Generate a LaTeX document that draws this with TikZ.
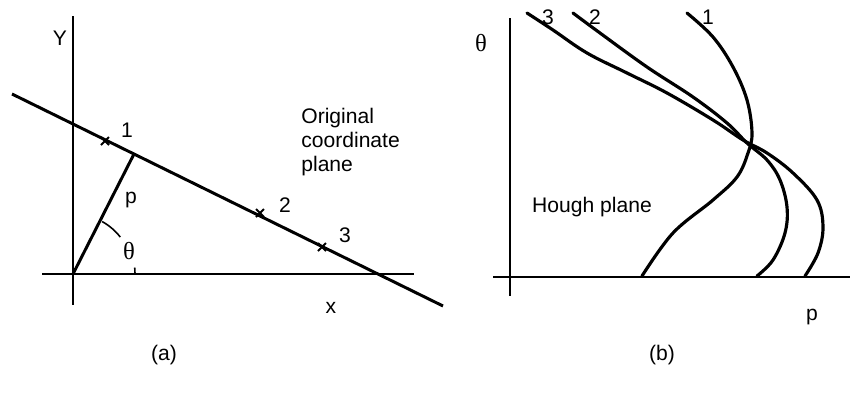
\documentclass[tikz,border=0pt]{standalone}
\usepackage{fontspec}
\setmainfont{Liberation Sans}
\newfontfamily\grk{Liberation Serif}
\begin{document}
\begin{tikzpicture}[x=0.02cm,y=-0.02cm,
  axis/.style={line width=1.3pt},
  heavy/.style={line width=1.7pt},
  hcurve/.style={line width=1.8pt,line cap=round},
  lbl/.style={font=\fontsize{12}{13.5}\selectfont,inner sep=0pt}]
  \useasboundingbox (0,0) rectangle (850,396);
  % coordinates in pixels, y grows downwards

  % (a) original coordinate plane
  \coordinate (O) at (73,274);
  \coordinate (ytop) at (73,16);
  \coordinate (ybot) at (73,305);
  \coordinate (xl) at (42,274);
  \coordinate (xr) at (414,274);
  \coordinate (la) at (12,94);
  \coordinate (lb) at (443,306);
  \coordinate (foot) at (134,154);
  \draw[axis] (ytop)--(ybot);
  \draw[axis] (xl)--(xr);
  \draw[heavy] (la)--(lb);
  \draw[heavy] (O)--(foot);
  % angle theta, broken by its label
  \draw[line width=0.9pt] (O) ++(-61:60) arc[start angle=-61,end angle=-38,radius=60];
  \draw[line width=0.9pt] (O) ++(-6:62) arc[start angle=-6,end angle=0,radius=62];
  % the three points on the line
  \foreach \n/\px/\py/\lx/\ly in {1/105/141/127/130,2/260/213/285/205,3/322/247/345/235}{
    \coordinate (pt\n) at (\px,\py);
    \draw[line width=1.2pt] ([shift={(-4,-4)}]pt\n)--([shift={(4,4)}]pt\n);
    \draw[line width=1.2pt] ([shift={(-4,4)}]pt\n)--([shift={(4,-4)}]pt\n);
    \node[lbl] (num\n) at (\lx,\ly){\n};
  }
  \node[lbl] (ylab) at (60,38){Y};
  \node[lbl] (xlab) at (331,308){x};
  \node[lbl] (plab) at (131,200){p};
  \node[lbl,font=\fontsize{14}{14}\selectfont] (tlab) at (129,251){\grk θ};
  \node[lbl,align=left,anchor=west] (orig) at (301,142){Original\\coordinate\\plane};
  \node[lbl] (capa) at (164,355){(a)};

  % (b) Hough plane
  \coordinate (tTop) at (510,18);
  \coordinate (tBot) at (510,296);
  \coordinate (pL) at (493,277);
  \coordinate (pR) at (850,277);
  \draw[axis] (tTop)--(tBot);
  \draw[axis] (pL)--(pR);
  % curve of point 1
  \draw[hcurve] plot[smooth,tension=0.6] coordinates {(687,13) (713,37) (733,67) (747,100)
    (752,133) (748,153) (737,177) (713,200) (673,233) (642,276)};
  % curve of point 2
  \draw[hcurve] plot[smooth,tension=0.6] coordinates {(573,13) (600,33) (647,67) (693,97)
    (727,123) (747,143) (767,160) (780,180) (787,207) (785,233) (773,260) (757,276)};
  % curve of point 3
  \draw[hcurve] plot[smooth,tension=0.6] coordinates {(527,13) (553,30) (587,53) (627,73)
    (667,93) (713,120) (743,140) (767,153) (793,173) (817,200) (823,227) (818,253) (805,276)};
  \node[lbl] (c1) at (708,17){1};
  \node[lbl] (c2) at (595,17){2};
  \node[lbl] (c3) at (548,17){3};
  \node[lbl,font=\fontsize{14}{14}\selectfont] (thlab) at (481,43){\grk θ};
  \node[lbl] (phlab) at (812,317){p};
  \node[lbl] (hough) at (592,207){Hough plane};
  \node[lbl] (capb) at (662,355){(b)};
\end{tikzpicture}
\end{document}
